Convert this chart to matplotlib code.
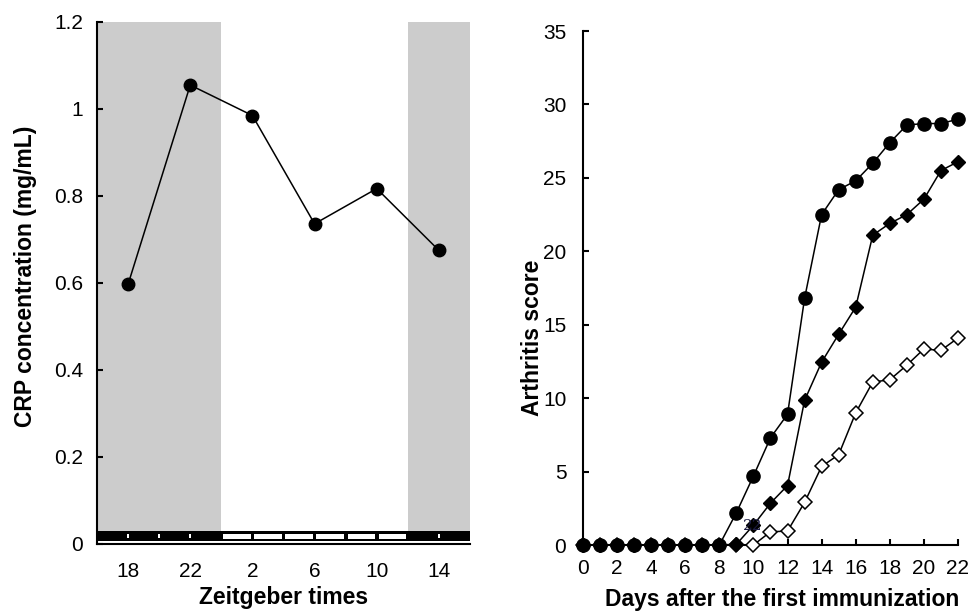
import matplotlib
matplotlib.use("Agg")
import matplotlib.pyplot as plt
import matplotlib.transforms as mtransforms
from matplotlib.patches import Rectangle

plt.rcParams['font.family'] = ['Liberation Sans', 'DejaVu Sans']

# ---- left panel data: CRP over Zeitgeber time (hours after ZT16) ----
zt_hours = [2, 6, 10, 14, 18, 22]
zt_labels = ['18', '22', '2', '6', '10', '14']
crp = [0.597, 1.055, 0.985, 0.736, 0.817, 0.675]
dark_periods = [(0, 8), (20, 24)]          # ZT12-ZT24 shown in gray
light_period = (8, 20)
crp_yticks = [0, 0.2, 0.4, 0.6, 0.8, 1.0, 1.2]
crp_yticklabels = ['0', '0.2', '0.4', '0.6', '0.8', '1', '1.2']

# ---- right panel data: arthritis score ----
days = list(range(23))
score_circle = [0, 0, 0, 0, 0, 0, 0, 0, 0, 2.2, 4.7, 7.3, 8.9, 16.8, 22.5,
                24.2, 24.8, 26.0, 27.4, 28.6, 28.7, 28.7, 29.0]
score_diamond = [0, 0, 0, 0, 0, 0, 0, 0, 0, 0.05, 1.35, 2.85, 4.05, 9.85, 12.45,
                 14.35, 16.2, 21.1, 21.9, 22.5, 23.55, 25.5, 26.1]
score_open = [0, 0, 0, 0, 0, 0, 0, 0, 0, 0, 0, 0.9, 0.95, 2.9, 5.35,
              6.15, 9.0, 11.1, 11.25, 12.25, 13.35, 13.25, 14.1]

TICK_FS = 15
LABEL_FS = 16.5

fig = plt.figure(figsize=(9.71, 6.11), dpi=100)

# ================= left panel =================
ax1 = fig.add_axes([0.0999, 0.1097, 0.3841, 0.8543])
bar_top = 0.024
trans = mtransforms.blended_transform_factory(ax1.transData, ax1.transAxes)
for x0, x1 in dark_periods:
    ax1.add_patch(Rectangle((x0, bar_top), x1 - x0, 1 - bar_top, transform=trans,
                            facecolor='#cccccc', edgecolor='none', zorder=0))

# light/dark bar along the bottom
ax1.add_patch(Rectangle((0, 0.006), 24, bar_top - 0.006, transform=trans,
                        facecolor='black', edgecolor='none', zorder=1))
for h in range(light_period[0], light_period[1], 2):
    ax1.add_patch(Rectangle((h + 0.12, 0.009), 2 - 0.24, 0.0105, transform=trans,
                            facecolor='white', edgecolor='none', zorder=2))
for h in [2, 4, 6, 22]:
    ax1.add_patch(Rectangle((h - 0.05, 0.011), 0.1, 0.0075, transform=trans,
                            facecolor='white', edgecolor='none', zorder=2))

ax1.plot(zt_hours, crp, color='black', linewidth=1.1, marker='o',
         markersize=9, zorder=3)
ax1.set_xlim(0, 24)
ax1.set_ylim(0, 1.2)
ax1.set_xticks(zt_hours)
ax1.set_xticklabels(zt_labels)
ax1.set_yticks(crp_yticks)
ax1.set_yticklabels(crp_yticklabels)
ax1.tick_params(axis='x', length=0, pad=13, labelsize=TICK_FS)
ax1.tick_params(axis='y', direction='in', length=4, width=1.5, pad=10,
                labelsize=TICK_FS)
ax1.spines['top'].set_visible(False)
ax1.spines['right'].set_visible(False)
ax1.spines['left'].set_linewidth(1.5)
ax1.spines['bottom'].set_linewidth(1.5)
ax1.set_xlabel('Zeitgeber times', fontsize=LABEL_FS, fontweight='bold')
ax1.xaxis.set_label_coords(0.5, -0.08)
ax1.set_ylabel('CRP concentration (mg/mL)', fontsize=LABEL_FS, fontweight='bold')
ax1.yaxis.set_label_coords(-0.16, 0.513)

# ================= right panel =================
ax2 = fig.add_axes([0.6004, 0.108, 0.3862, 0.8412])
ax2.plot(days, score_open, color='black', linewidth=1.1, marker='D',
         markersize=7.5, markerfacecolor='white', markeredgecolor='black',
         markeredgewidth=1.1, clip_on=False, zorder=3)
ax2.plot(days, score_diamond, color='black', linewidth=1.1, marker='D',
         markersize=7.5, clip_on=False, zorder=4)
ax2.plot(days, score_circle, color='black', linewidth=1.1, marker='o',
         markersize=9.5, clip_on=False, zorder=5)
ax2.text(9.95, 1.3, '22', fontsize=11, color='#1c1c44', family='serif',
         ha='center', va='center', zorder=10)

ax2.set_xlim(0, 22)
ax2.set_ylim(0, 35)
ax2.set_xticks(range(0, 23, 2))
ax2.set_yticks(range(0, 36, 5))
ax2.tick_params(axis='x', direction='in', length=4, width=1.5, pad=10,
                labelsize=TICK_FS)
ax2.tick_params(axis='y', direction='in', length=4, width=1.5, pad=12,
                labelsize=TICK_FS)
ax2.spines['top'].set_visible(False)
ax2.spines['right'].set_visible(False)
ax2.spines['left'].set_linewidth(1.5)
ax2.spines['bottom'].set_linewidth(1.5)
ax2.set_xlabel('Days after the first immunization', fontsize=LABEL_FS,
               fontweight='bold')
ax2.xaxis.set_label_coords(0.53, -0.083)
ax2.set_ylabel('Arthritis score', fontsize=LABEL_FS, fontweight='bold')
ax2.yaxis.set_label_coords(-0.103, 0.403)

fig.savefig('out.png', dpi=100)
